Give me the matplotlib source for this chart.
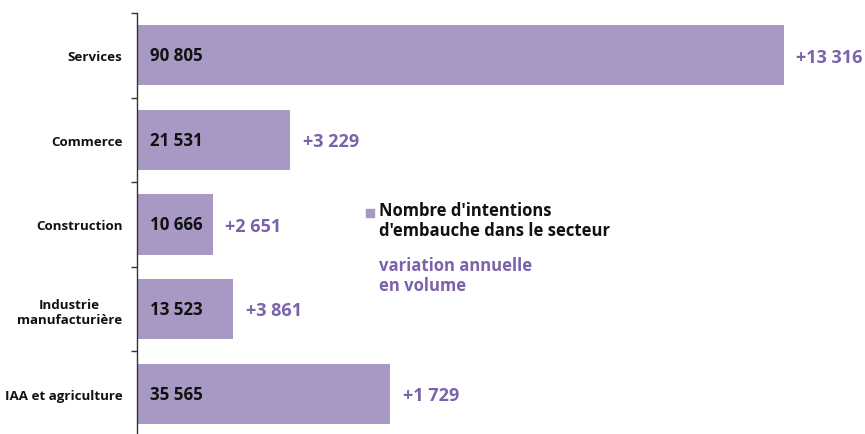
import matplotlib
matplotlib.use('Agg')
import matplotlib.pyplot as plt
from matplotlib.ticker import FixedLocator

BAR_COLOR = '#a898c4'
VAR_COLOR = '#7b62aa'
TEXT = '#111111'

plt.rcParams['font.family'] = ['Open Sans', 'DejaVu Sans']

sectors = ['Services', 'Commerce', 'Construction',
           'Industrie\nmanufacturière', 'IAA et agriculture']
intentions = [90805, 21531, 10666, 13523, 35565]
variations = [13316, 3229, 2651, 3861, 1729]


def fmt(v):
    return f'{v:,}'.replace(',', ' ')


fig = plt.figure(figsize=(8.65, 4.35), dpi=100)
ax = fig.add_axes([137 / 865, -2 / 435, 1 - 137 / 865, 423 / 435])

y = list(range(len(sectors)))
ax.barh(y, intentions, height=0.71, color=BAR_COLOR, edgecolor='none')

ax.set_xlim(0, 102200)
ax.set_ylim(len(sectors) - 0.5, -0.5)

# value labels inside the bars
for yi, v in zip(y, intentions):
    ax.text(1800, yi, fmt(v), ha='left', va='center', fontsize=12.2,
            fontweight='bold', color=TEXT)

# annual variation next to each bar
for yi, v, d in zip(y, intentions, variations):
    ax.annotate('+' + fmt(d), (v, yi), xytext=(9, -1),
                textcoords='offset points', ha='left', va='center',
                fontsize=13, fontweight='bold', color=VAR_COLOR)

# axes styling
for s in ['top', 'right', 'bottom']:
    ax.spines[s].set_visible(False)
ax.spines['left'].set_color('#333333')
ax.spines['left'].set_linewidth(1.0)
ax.set_xticks([])
ax.set_yticks(y)
ax.set_yticklabels(sectors, fontsize=9.6, fontweight='bold', color=TEXT,
                   multialignment='center')
ax.tick_params(axis='y', which='major', length=0, pad=10.5)
ax.yaxis.set_minor_locator(FixedLocator([i - 0.5 for i in range(len(sectors) + 1)]))
ax.tick_params(axis='y', which='minor', length=4, width=1.0, color='#333333')

# legend-like annotation
fig.patches.append(plt.Rectangle((366 / 865, 1 - 218 / 435), 8 / 865, 8 / 435,
                                 transform=fig.transFigure, color=BAR_COLOR))
fig.text(379 / 865, 1 - 202 / 435, "Nombre d'intentions\nd'embauche dans le secteur",
         ha='left', va='top', fontsize=12, fontweight='bold', color=TEXT,
         linespacing=1.15)
fig.text(379 / 865, 1 - 257 / 435, 'variation annuelle\nen volume',
         ha='left', va='top', fontsize=12, fontweight='bold', color=VAR_COLOR,
         linespacing=1.15)

fig.savefig('out.png', dpi=100, facecolor='white')
